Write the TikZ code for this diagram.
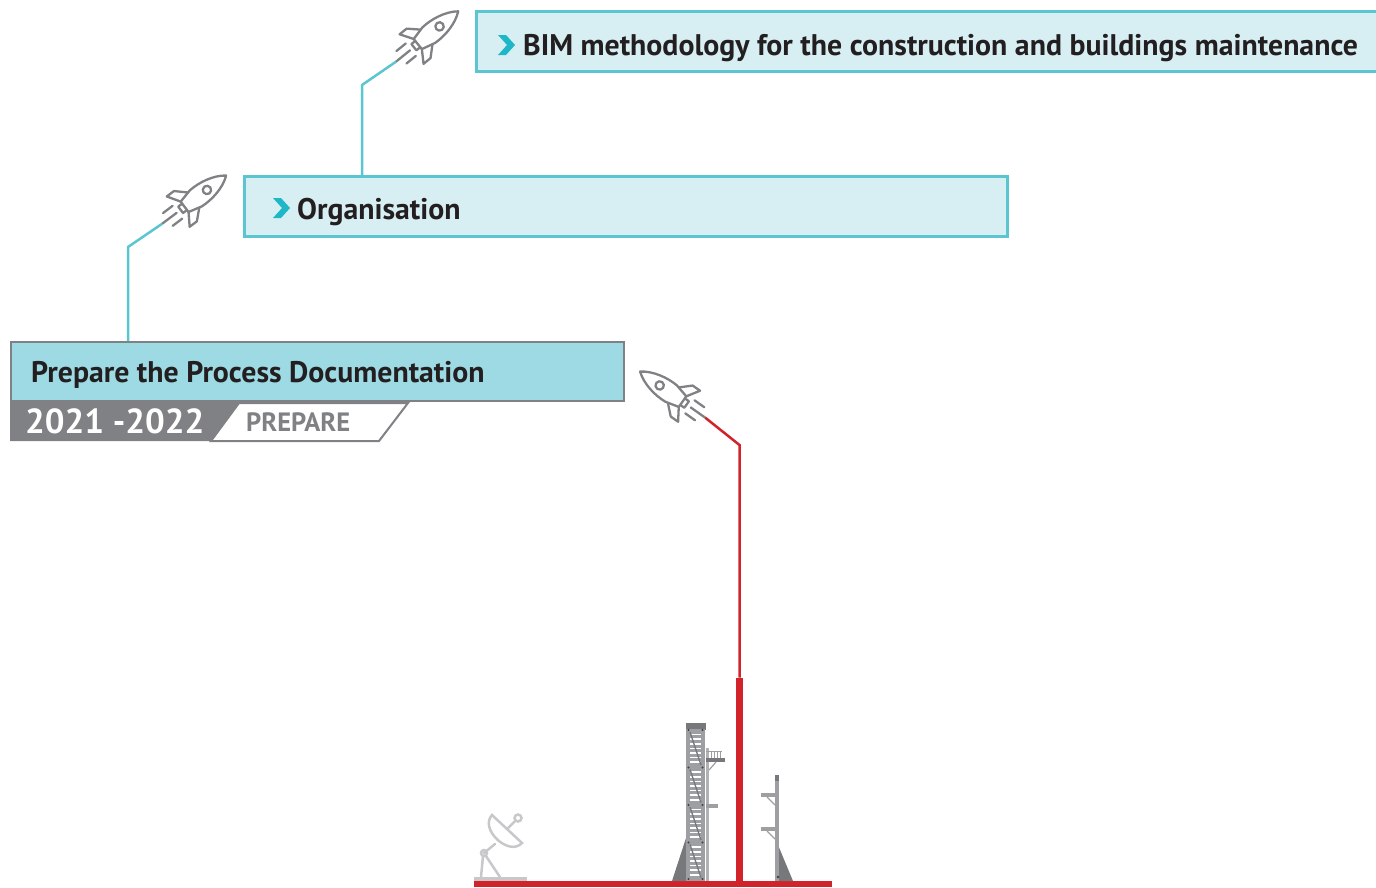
\documentclass[tikz,border=0pt]{standalone}
\usepackage{fontspec}
\setmainfont{PT Sans}
\usetikzlibrary{positioning}

\definecolor{skyline}{HTML}{5BC5D1}
\definecolor{skyfill}{HTML}{D7EEF2}
\definecolor{tealfill}{HTML}{9DDAE4}
\definecolor{chevcyan}{HTML}{1DB7C8}
\definecolor{rocketgray}{HTML}{808184}
\definecolor{launchred}{HTML}{D2232A}
\definecolor{steel}{HTML}{9D9FA2}
\definecolor{steeldark}{HTML}{77787B}
\definecolor{dishgray}{HTML}{C7C8CA}
\definecolor{inktext}{HTML}{231F20}

\tikzset{
  rocketline/.style={draw=rocketgray, line width=2.3, line join=round, line cap=round},
  % little rocket, nose along +x
  rocket/.pic={
    \draw[rocketline] (44,0) .. controls (34,-8) and (18,-11) .. (6,-10) -- (-8,-6.5)
      -- (-8,6.5) -- (6,10) .. controls (18,11) and (34,8) .. (44,0) -- cycle;
    \draw[rocketline] (20,0) circle (4.2);
    \draw[rocketline] (3,-9.7) -- (-7,-19) -- (-16,-19) -- (-8,-6.5);
    \draw[rocketline] (3,9.7) -- (-7,19) -- (-16,19) -- (-8,6.5);
    \draw[rocketline] (-8,-4) -- (-13,-4) -- (-13,4) -- (-8,4);
    \draw[rocketline] (-17,-8) -- (-29,-8) (-18,0) -- (-36,0) (-17,8) -- (-29,8);
    \coordinate (-tail) at (-36,0);
  },
  chevron/.pic={
    \fill[chevcyan] (-8,-10) -- (0,-10) -- (9,0) -- (0,10) -- (-8,10) -- (1,0) -- cycle;
  }
}

\begin{document}
\begin{tikzpicture}[
    x=1pt, y=-1pt,
    skybox/.style={draw=skyline, line width=3, fill=skyfill, inner sep=0, anchor=north west},
    docbox/.style={draw=rocketgray, line width=2, fill=tealfill, inner sep=0, anchor=north west},
    boxtext/.style={font=\fontsize{29.8}{35}\selectfont\bfseries, text=inktext, inner sep=0, anchor=base west},
    skywire/.style={draw=skyline, line width=2.5},
    redwire/.style={draw=launchred, line width=2.5},
  ]
  \clip (0,0) rectangle (1376,887);

  % milestone boxes
  \node[skybox, minimum width=920, minimum height=60] (bim) at (475,10) {};
  \pic at (506,45) {chevron};
  \node[boxtext] (bimtext) at (523,55) {BIM methodology for the construction and buildings maintenance};

  \node[skybox, minimum width=763, minimum height=60] (org) at (243,175) {};
  \pic at (281,208) {chevron};
  \node[boxtext] (orgtext) at (297,219) {Organisation};

  \node[docbox, minimum width=613, minimum height=59] (prep) at (10,341) {};
  \node[boxtext] (preptext) at (31,382) {Prepare the Process Documentation};

  % year band under the box
  \fill[rocketgray] (10,402) -- (239,402) -- (211,441) -- (10,441) -- cycle;
  \draw[rocketgray, line width=2, fill=white] (239,403) -- (408,403) -- (379,441) -- (211,441) -- cycle;
  \node[boxtext, font=\fontsize{34.8}{40}\selectfont\bfseries, text=white] (year) at (25,433) {2021 -2022};
  \node[boxtext, font=\fontsize{26.5}{30}\selectfont\bfseries, text=rocketgray] (phase) at (246,431) {PREPARE};

  % rockets
  \pic[rotate=39] (r1) at (424,39) {rocket};
  \pic[rotate=37] (r2) at (191,202) {rocket};
  \pic[rotate=144.7] (r3) at (676,397) {rocket};

  % launch pad
  \fill[launchred] (474,881) rectangle (832,887);
  \node[fill=launchred, minimum width=7, minimum height=205, inner sep=0, anchor=south] (mast) at (739.5,883) {};

  % connectors
  \coordinate (k1) at (362,85);
  \coordinate (k2) at (128,247);
  \coordinate (k3) at (739.5,445);
  \draw[skywire] (k1 |- org.north) -- (k1) -- (r1-tail);
  \draw[skywire] (k2 |- prep.north) -- (k2) -- (r2-tail);
  \draw[redwire] (mast.north) -- (k3) -- (r3-tail);

  % service tower
  \fill[steeldark] (686,838) -- (686,881) -- (672,881) -- cycle;
  \fill[steel] (686,729) rectangle (705,881);
  \fill[steeldark] (686,723) rectangle (706,730);
  \foreach \s in {730,767.5,805,842.5} {
    \foreach \k in {1,...,7}
      \draw[white, line width=1.6] (690,\s+\k*4.6) -- (701,\s+\k*4.6);
    \draw[steeldark, line width=1.3] (690,\s+2) -- (701,\s+35);
  }
  \foreach \s in {730,767.5,805,842.5,879} {
    \fill[steel] (686,\s-1.5) rectangle (705,\s+1.5);
    \fill[black!75] (688.5,\s) circle (1.2) (702.5,\s) circle (1.2);
  }
  \fill[steel!80] (706,748) rectangle (709,881);
  \fill[steeldark] (706,758) rectangle (725,762);
  \draw[steel, line width=1] (706,751) -- (722,751);
  \foreach \x in {711,714,717,720}
    \draw[steel, line width=0.8] (\x,751) -- (\x,758);
  \draw[steel, line width=1.2] (709,770) -- (716,762);
  \fill[steel] (706,804) rectangle (718,808);

  % small mast
  \fill[steeldark] (778,845) -- (793,881) -- (778,881) -- cycle;
  \fill[steel] (775,779) rectangle (779,881);
  \fill[steeldark] (775,775) rectangle (779,781);
  \foreach \y in {793,827} {
    \fill[steel] (761,\y) rectangle (777,\y+4);
    \draw[steel, line width=1.2] (767,\y+4) -- (775,\y+12);
  }
  \fill[black!75] (778,877) circle (1.3);

  % dish
  \begin{scope}[draw=dishgray, line width=2.5, line cap=round]
    \fill[dishgray] (474,877) rectangle (527,881);
    \draw (492,815) .. controls (479,829) and (509,857) .. (522,843) -- cycle;
    \draw (507,829) -- (515,821);
    \draw (518,818) circle (3.5);
    \draw (495,844) -- (484,853);
    \draw (484,853) circle (3);
    \draw (483,856) -- (481,877) (486,856) -- (500,877);
  \end{scope}
\end{tikzpicture}
\end{document}
